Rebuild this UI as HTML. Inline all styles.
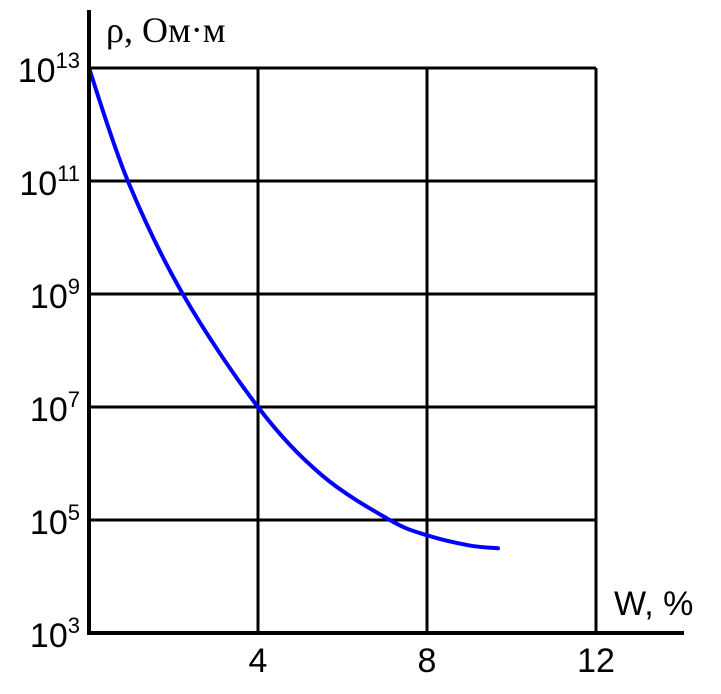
<!DOCTYPE html>
<html><head><meta charset="utf-8"><style>
html,body{margin:0;padding:0;background:#fff;}
svg{display:block;}
text{font-family:"Liberation Sans",sans-serif;fill:#000;}
</style></head><body>
<svg id="chart" width="721" height="694" viewBox="0 0 721 694" xmlns="http://www.w3.org/2000/svg">
<g id="grid"></g>
<g id="labels"></g>
<path id="curve" fill="none" stroke="#0000ff" stroke-width="4" stroke-linecap="round"></path>
<line x1="89" y1="10" x2="89" y2="635" stroke="#000" stroke-width="4"/>
<line x1="87" y1="633" x2="684" y2="633" stroke="#000" stroke-width="4"/>
<text x="106" y="42" font-family="Liberation Serif,serif" font-size="36" style="font-family:'Liberation Serif',serif">ρ,  Ом·м</text>
<text x="614" y="615" font-size="34">W, %</text>
</svg>
<script>
const xTicks=[4,8,12];
const yExps=[3,5,7,9,11,13];
const wValues=[0,0.92,2.22,4,5.5,7.12,8,9.0,9.68];
const logRho=[13,11,9,7,5.8,5,4.73,4.55,4.5];
const X=v=>89+v*42.25;
const Y=e=>633-(e-3)*56.5;
const ns='http://www.w3.org/2000/svg';
const grid=document.getElementById('grid'),labels=document.getElementById('labels');
function mk(tag,attrs,parent){const el=document.createElementNS(ns,tag);for(const k in attrs)el.setAttribute(k,attrs[k]);parent.appendChild(el);return el;}
xTicks.forEach(t=>{
  const l=mk('line',{x1:X(t),y1:Y(13),x2:X(t),y2:633,stroke:'#000','stroke-width':3},grid);
  
  
  const tx=mk('text',{x:X(t),y:672,'font-size':34,'text-anchor':'middle'},labels);
  tx.textContent=t;
  
  
});
yExps.forEach(e=>{
  if(e>3){const l=mk('line',{x1:89,y1:Y(e),x2:X(12),y2:Y(e),stroke:'#000','stroke-width':3},grid);
  
  }
  const tx=mk('text',{x:80,y:Y(e)+14,'font-size':34,'text-anchor':'end'},labels);
  
  
  const a=document.createElementNS(ns,'tspan');a.textContent='10';tx.appendChild(a);
  const b=document.createElementNS(ns,'tspan');b.textContent=e;b.setAttribute('font-size','22');b.setAttribute('dy','-14');tx.appendChild(b);
});
// Catmull-Rom smooth path
const pts=wValues.map((w,i)=>[X(w),Y(logRho[i])]);
let d='M'+pts[0][0]+','+pts[0][1];
for(let i=0;i<pts.length-1;i++){
  const p0=pts[Math.max(0,i-1)],p1=pts[i],p2=pts[i+1],p3=pts[Math.min(pts.length-1,i+2)];
  const c1=[p1[0]+(p2[0]-p0[0])/6,p1[1]+(p2[1]-p0[1])/6];
  const c2=[p2[0]-(p3[0]-p1[0])/6,p2[1]-(p3[1]-p1[1])/6];
  d+=' C'+c1+' '+c2+' '+p2;
}
document.getElementById('curve').setAttribute('d',d);
</script>
</body></html>
